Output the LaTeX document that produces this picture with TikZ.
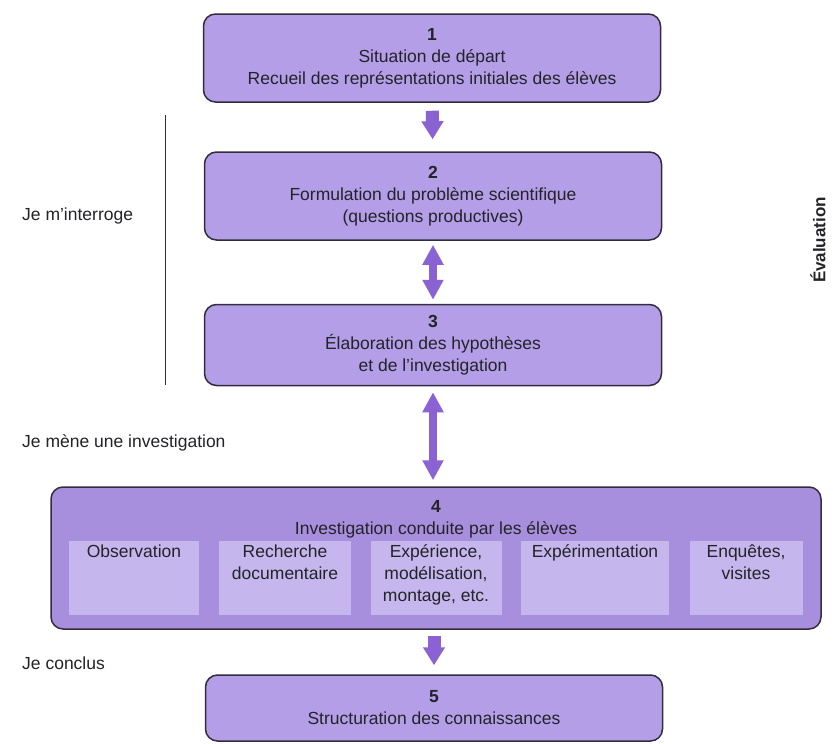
\documentclass[tikz,border=0pt]{standalone}
\usepackage{fontspec}
\setmainfont{Liberation Sans}
\usetikzlibrary{arrows.meta,positioning}

\definecolor{boxfill}{RGB}{180,158,232}
\definecolor{bigfill}{RGB}{168,143,222}
\definecolor{subfill}{RGB}{198,182,238}
\definecolor{arrowcol}{RGB}{138,98,212}
\definecolor{edgecol}{RGB}{50,45,60}
\definecolor{textcol}{RGB}{35,35,40}

\newcommand{\stagefont}{\fontsize{17.5}{22}\selectfont}
\newcommand{\toplines}[1]{\begin{tabular}[t]{@{}c@{}}#1\end{tabular}}

\tikzset{
  stepbox/.style={draw=edgecol, line width=1.5pt, fill=boxfill, rounded corners=12pt,
    minimum width=457pt, align=center, text=textcol, font=\stagefont},
  bigbox/.style={stepbox, fill=bigfill, minimum width=770pt, minimum height=142pt},
  subbox/.style={fill=subfill, anchor=north, text=textcol, font=\stagefont,
    text height=12pt, text depth=54pt, inner xsep=2pt, inner ysep=4pt},
  sidelabel/.style={anchor=west, text=textcol, font=\stagefont, inner sep=0pt},
  downarrow/.style={arrowcol, line width=13pt, -{Triangle[width=21pt,length=18pt]}},
  twoarrow/.style={arrowcol, line width=8pt, {Triangle[width=20pt,length=20pt]}-{Triangle[width=20pt,length=20pt]}}
}

\begin{document}
\begin{tikzpicture}[x=1pt,y=-1pt]
  \useasboundingbox[fill=white] (0,0) rectangle (833,744);

  % the five stages
  \node[stepbox, minimum height=88pt] (s1) at (432,58)
    {\textbf{1}\\Situation de départ\\Recueil des représentations initiales des élèves};
  \node[stepbox, minimum height=88pt] (s2) at (433,196)
    {\textbf{2}\\Formulation du problème scientifique\\(questions productives)};
  \node[stepbox, minimum height=81pt] (s3) at (433,345)
    {\textbf{3}\\Élaboration des hypothèses\\et de l’investigation};
  \node[bigbox] (s4) at (436,558) {};
  \node[align=center, text=textcol, font=\stagefont] (t4) at (436,519)
    {\textbf{4}\\Investigation conduite par les élèves};
  \node[stepbox, minimum height=66pt] (s5) at (434,708)
    {\textbf{5}\\Structuration des connaissances};

  % what the pupils do in stage 4
  \node[subbox, minimum width=130pt] (obs) at (134,541) {\toplines{Observation}};
  \node[subbox, minimum width=132pt] (doc) at (285,541) {\toplines{Recherche\\documentaire}};
  \node[subbox, minimum width=131pt] (exp) at (436,541) {\toplines{Expérience,\\modélisation,\\montage, etc.}};
  \node[subbox, minimum width=148pt] (expm) at (595,541) {\toplines{Expérimentation}};
  \node[subbox, minimum width=113pt] (enq) at (746,541) {\toplines{Enquêtes,\\visites}};

  % arrows between stages
  \draw[downarrow, shorten <=8pt, shorten >=12pt] (s1) -- (s2);
  \draw[twoarrow, shorten <=4pt, shorten >=4pt] (s2) -- (s3);
  \draw[twoarrow, shorten <=6pt, shorten >=6pt] (s3.south) -- (s3.south |- s4.north);
  \draw[downarrow, shorten <=6pt, shorten >=9pt] (s5.north |- s4.south) -- (s5.north);

  % side labels
  \coordinate (ltop) at (165,115);
  \coordinate (lbot) at (165,385);
  \draw[edgecol, line width=1pt] (ltop) -- (lbot);
  \node[sidelabel] (ask) at (22,216) {Je m’interroge};
  \node[sidelabel] (inv) at (22,443) {Je mène une investigation};
  \node[sidelabel] (end) at (22,663) {Je conclus};
  \node[rotate=90, text=textcol, font=\bfseries\fontsize{17}{17}\selectfont] (eval) at (818,240) {Évaluation};
\end{tikzpicture}
\end{document}
